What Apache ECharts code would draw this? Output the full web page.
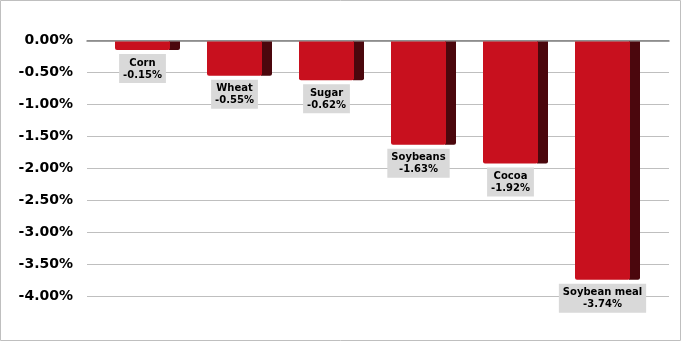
<!DOCTYPE html>
<html><head><meta charset="utf-8">
<script src="https://cdn.jsdelivr.net/npm/echarts@6/dist/echarts.min.js"></script>
<style>html,body{margin:0;padding:0;background:#fff}#c{width:681px;height:341px}</style>
</head><body><div id="c"></div>
<script>
const categories = ['Corn', 'Wheat', 'Sugar', 'Soybeans', 'Cocoa', 'Soybean meal'];
const values = [-0.15, -0.55, -0.62, -1.63, -1.92, -3.74];
const yMin = -4, yMax = 0, yStep = 0.5;

const chart = echarts.init(document.getElementById('c'), null, {renderer: 'canvas'});
const FONT = '"DejaVu Sans", Verdana, sans-serif';

const option = {
  animation: false,
  backgroundColor: '#fff',
  graphic: [{
    type: 'rect', shape: {x: 0.5, y: 0.5, width: 680, height: 340},
    style: {fill: 'none', stroke: '#bfbfbf', lineWidth: 1}, z: 100
  }],
  grid: [
    {left: 87, right: 12, top: 40.5, bottom: 44.5},
    {left: 96.5, right: 32.5, top: 40.5, bottom: 44.5}
  ],
  xAxis: [
    {gridIndex: 0, type: 'category', data: categories, position: 'top',
     axisLine: {show: true, lineStyle: {color: '#7f7f7f', width: 1.5}},
     axisTick: {show: false}, axisLabel: {show: false}, splitLine: {show: false}},
    {gridIndex: 1, type: 'category', data: categories, show: false}
  ],
  yAxis: [
    {gridIndex: 0, type: 'value', min: yMin, max: yMax, interval: yStep,
     axisLine: {show: false}, axisTick: {show: false},
     axisLabel: {margin: 14, color: '#000', fontFamily: FONT, fontWeight: 'bold', fontSize: 14,
       formatter: v => v.toFixed(2) + '%'},
     splitLine: {lineStyle: {color: '#bfbfbf', width: 1}}},
    {gridIndex: 1, type: 'value', min: yMin, max: yMax, interval: yStep, show: false}
  ],
  series: [{
    type: 'custom',
    xAxisIndex: 1, yAxisIndex: 1,
    data: values.map((v, i) => [i, v]),
    z: 10,
    renderItem: function (params, api) {
      const i = api.value(0), v = api.value(1);
      const p0 = api.coord([i, 0]);
      const p1 = api.coord([i, v]);
      const band = api.size([1, 0])[0];
      const fw = band * 55 / 92, sw = band * 10 / 92;
      const cx = p0[0];
      const top = p0[1] + 1, bot = p1[1];
      return {
        type: 'group',
        children: [
          {type: 'rect', shape: {x: cx + fw / 2 - 1, y: top, width: sw + 1, height: bot - top, r: [0, 0, 2, 0]},
           style: {fill: '#4b070d'}},
          {type: 'rect', shape: {x: cx - fw / 2, y: top, width: fw, height: bot - top, r: [0, 0, 2, 2]},
           style: {fill: '#c8101e'}},
          {type: 'text', x: cx, y: bot + 4,
           style: {text: categories[i] + '\n' + v.toFixed(2) + '%', align: 'center', verticalAlign: 'top',
             font: 'bold 10px ' + FONT, lineHeight: 12, fill: '#000',
             backgroundColor: '#d9d9d9', padding: [3, 4, 2, 4]}}
        ]
      };
    }
  }]
};
chart.setOption(option);
</script></body></html>
